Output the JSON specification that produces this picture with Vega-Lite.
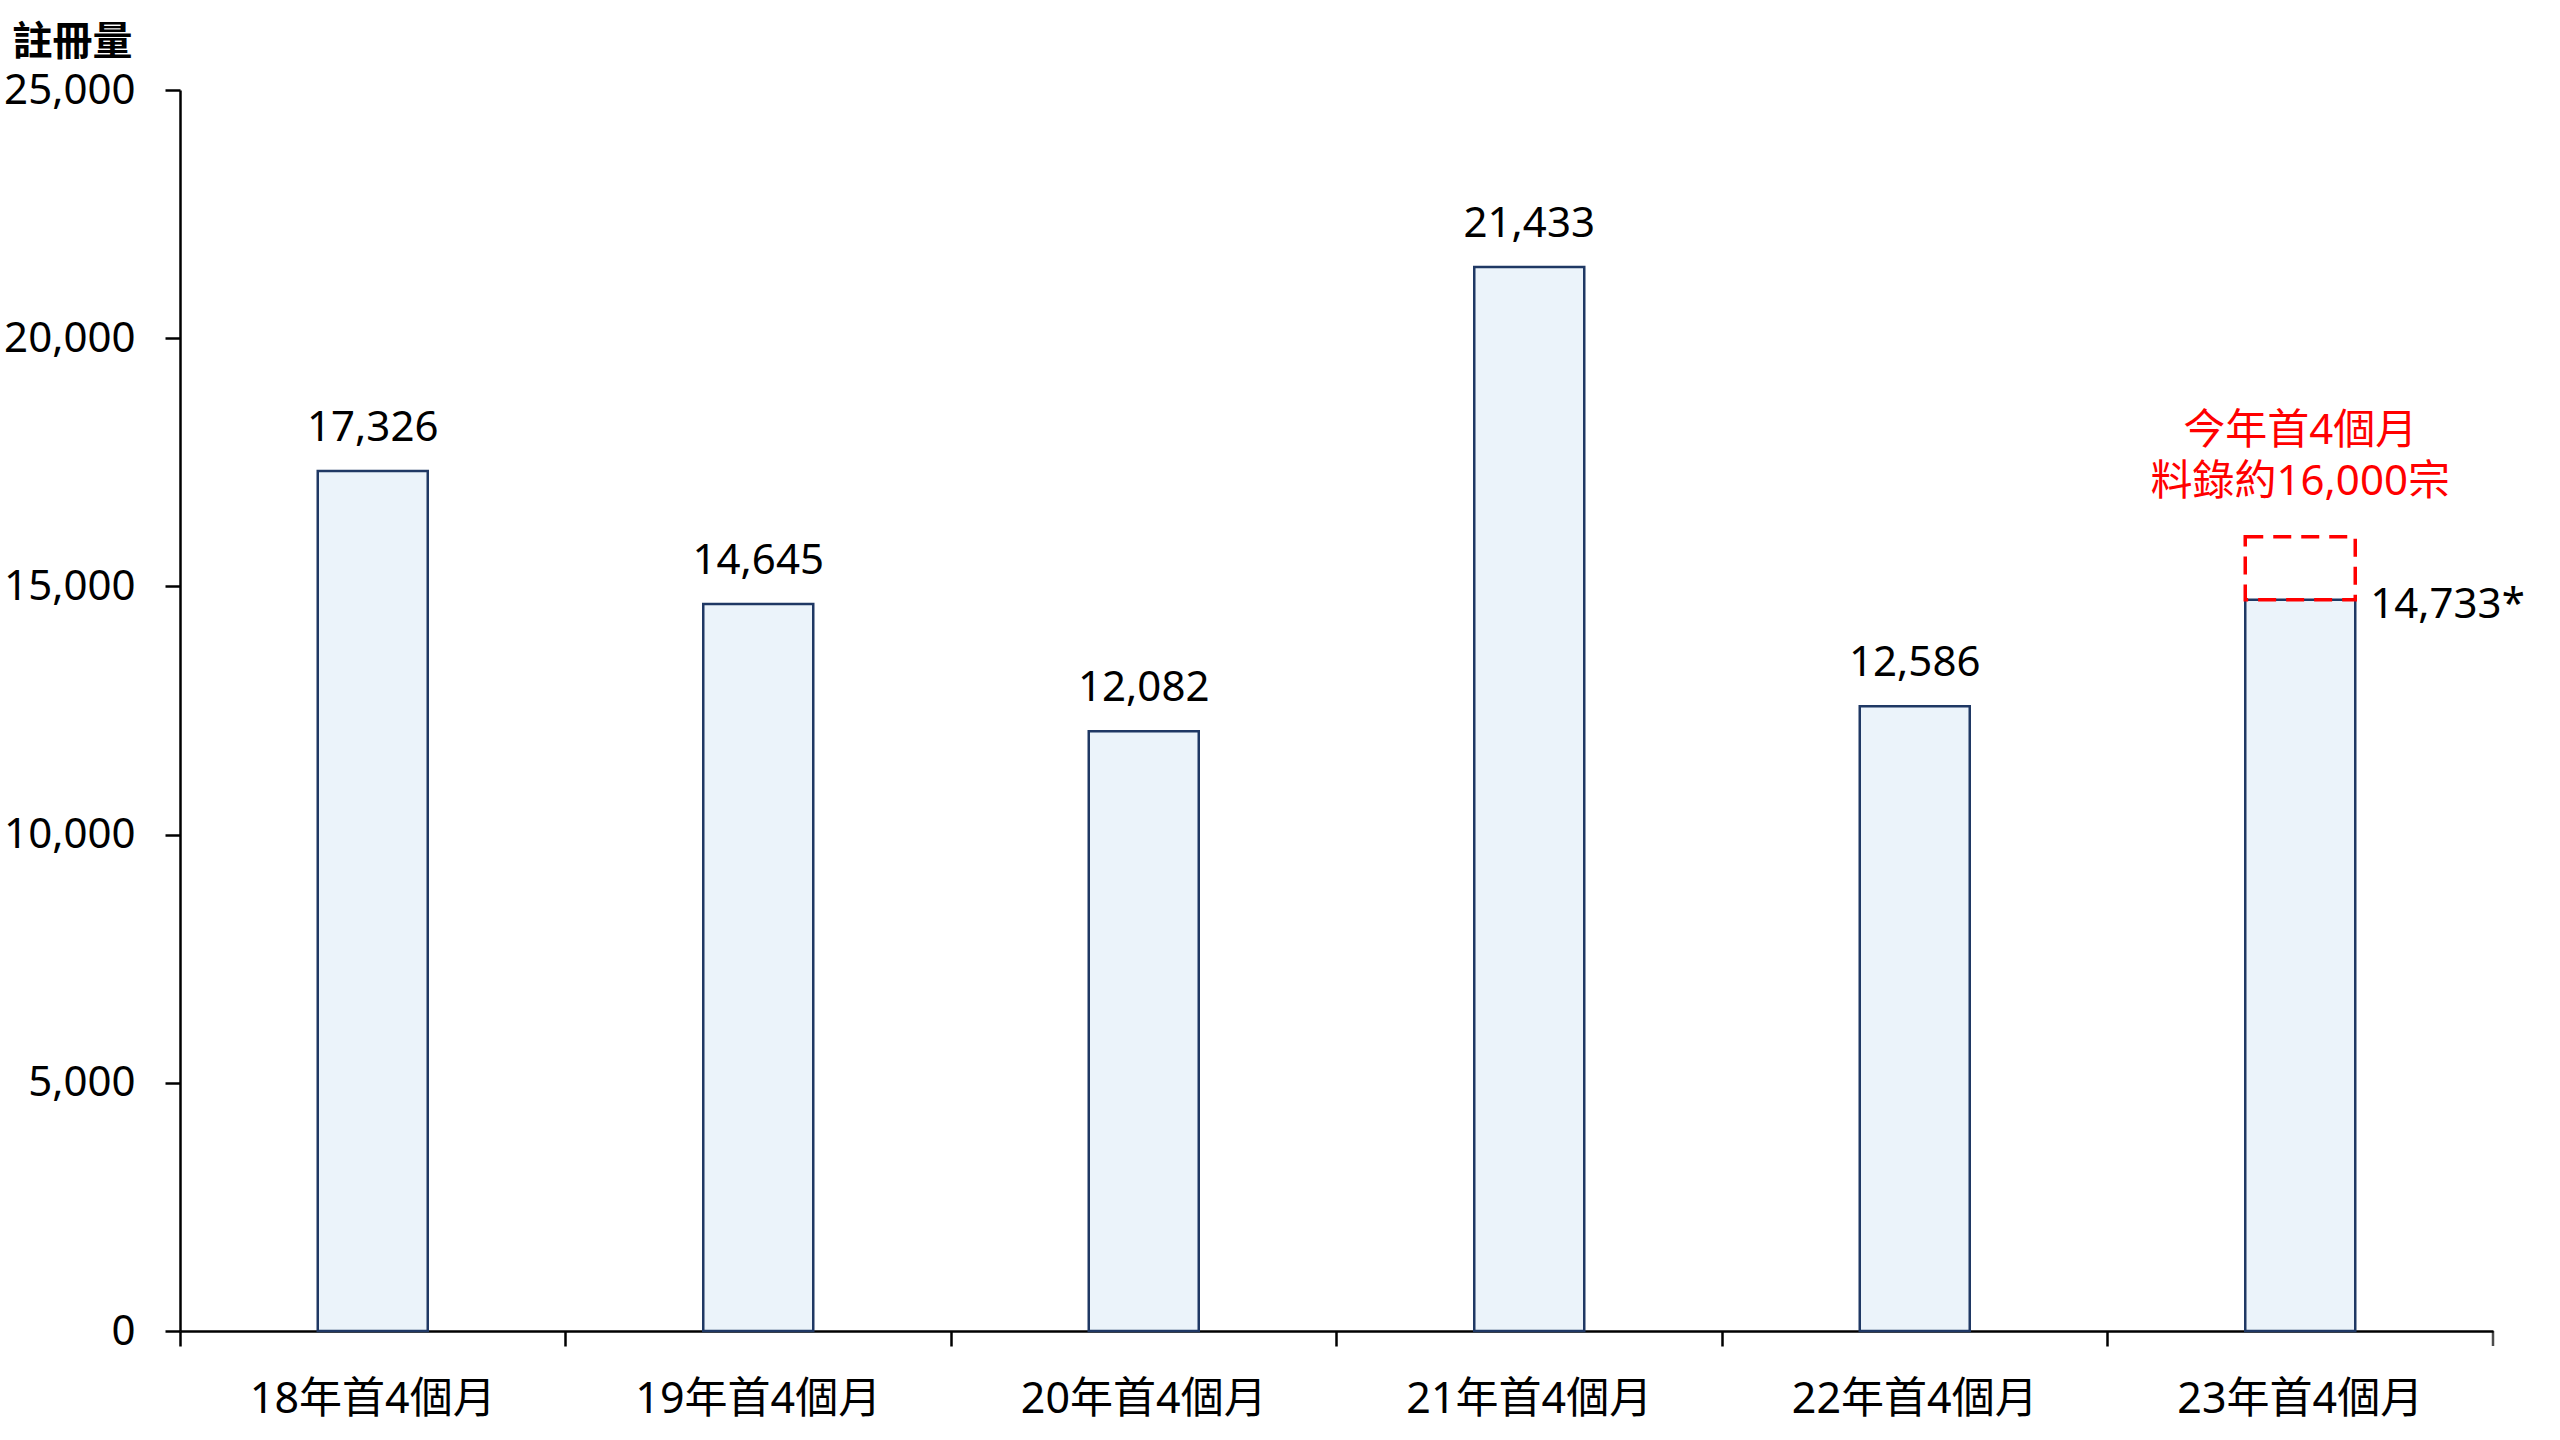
{
  "$schema": "https://vega.github.io/schema/vega-lite/v6.json",
  "width": 2313,
  "height": 1241,
  "autosize": "none",
  "padding": {"left": 180, "top": 90, "right": 67, "bottom": 109},
  "background": "white",
  "config": {
    "view": {"stroke": null},
    "font": "Noto Sans, Noto Sans CJK TC",
    "numberFormat": ",",
    "axis": {
      "grid": false,
      "domainColor": "black",
      "domainWidth": 2.5,
      "tickColor": "black",
      "tickWidth": 2.5,
      "tickSize": 15,
      "labelColor": "black",
      "labelFont": "Noto Sans, Noto Sans CJK TC",
      "titleFont": "Noto Sans, Noto Sans CJK TC"
    }
  },
  "datasets": {
    "main": [
      {"cat": "18年首4個月", "value": 17326, "label": "17,326"},
      {"cat": "19年首4個月", "value": 14645, "label": "14,645"},
      {"cat": "20年首4個月", "value": 12082, "label": "12,082"},
      {"cat": "21年首4個月", "value": 21433, "label": "21,433"},
      {"cat": "22年首4個月", "value": 12586, "label": "12,586"},
      {"cat": "23年首4個月", "value": 14733, "label": "14,733*"}
    ],
    "proj": [
      {"cat": "23年首4個月", "actual": 14733, "projected": 16000, "base": 0, "note": ["今年首4個月", "料錄約16,000宗"]}
    ]
  },
  "encoding": {
    "x": {
      "field": "cat",
      "type": "nominal",
      "sort": ["18年首4個月", "19年首4個月", "20年首4個月", "21年首4個月", "22年首4個月", "23年首4個月"],
      "scale": {"domain": ["18年首4個月", "19年首4個月", "20年首4個月", "21年首4個月", "22年首4個月", "23年首4個月"], "paddingInner": 0, "paddingOuter": 0},
      "axis": {
        "title": null,
        "labelAngle": 0,
        "labelFontSize": 43,
        "labelPadding": 32,
        "labelLimit": 0,
        "bandPosition": 0
      }
    }
  },
  "layer": [
    {
      "data": {"name": "main"},
      "mark": {"type": "bar", "size": 110, "fill": "#EBF3FA", "stroke": "#1F3864", "strokeWidth": 2.5},
      "encoding": {
        "y": {
          "field": "value",
          "type": "quantitative",
          "scale": {"domain": [0, 25000], "nice": false},
          "axis": {
            "title": "註冊量",
            "titleAngle": 0,
            "titleAlign": "left",
            "titleBaseline": "alphabetic",
            "titleX": -168,
            "titleY": -36,
            "titleFontSize": 40,
            "titleFontWeight": "bold",
            "titleColor": "black",
            "labelFontSize": 42,
            "labelPadding": 30,
            "values": [0, 5000, 10000, 15000, 20000, 25000],
            "format": ",",
            "labelExpr": "format(datum.value, ',')"
          }
        }
      }
    },
    {
      "data": {"name": "main"},
      "transform": [{"filter": "datum.cat != '23年首4個月'"}],
      "mark": {"type": "text", "fontSize": 42, "baseline": "alphabetic", "dy": -30, "color": "black"},
      "encoding": {
        "y": {"field": "value", "type": "quantitative"},
        "text": {"field": "label"}
      }
    },
    {
      "data": {"name": "main"},
      "transform": [{"filter": "datum.cat == '23年首4個月'"}],
      "mark": {"type": "text", "fontSize": 42, "baseline": "alphabetic", "align": "left", "dx": 70, "dy": 18, "color": "black"},
      "encoding": {
        "y": {"field": "value", "type": "quantitative"},
        "text": {"field": "label"}
      }
    },
    {
      "data": {"name": "proj"},
      "mark": {"type": "bar", "size": 110, "fill": "white", "fillOpacity": 0, "stroke": "#FF0000", "strokeWidth": 3.5, "strokeDash": [18, 10]},
      "encoding": {
        "y": {"field": "actual", "type": "quantitative"},
        "y2": {"field": "projected"}
      }
    },
    {
      "data": {"name": "proj"},
      "mark": {"type": "text", "fontSize": 42, "baseline": "alphabetic", "align": "center", "dy": -93, "lineHeight": 51, "color": "#FF0000"},
      "encoding": {
        "y": {"field": "projected", "type": "quantitative"},
        "text": {"field": "note"}
      }
    },
    {
      "data": {"name": "proj"},
      "mark": {"type": "tick", "orient": "vertical", "size": 15, "thickness": 2.5, "yOffset": 7.5, "color": "black"},
      "encoding": {
        "x": {"field": "cat", "type": "nominal", "bandPosition": 1},
        "y": {"field": "base", "type": "quantitative"}
      }
    }
  ]
}
